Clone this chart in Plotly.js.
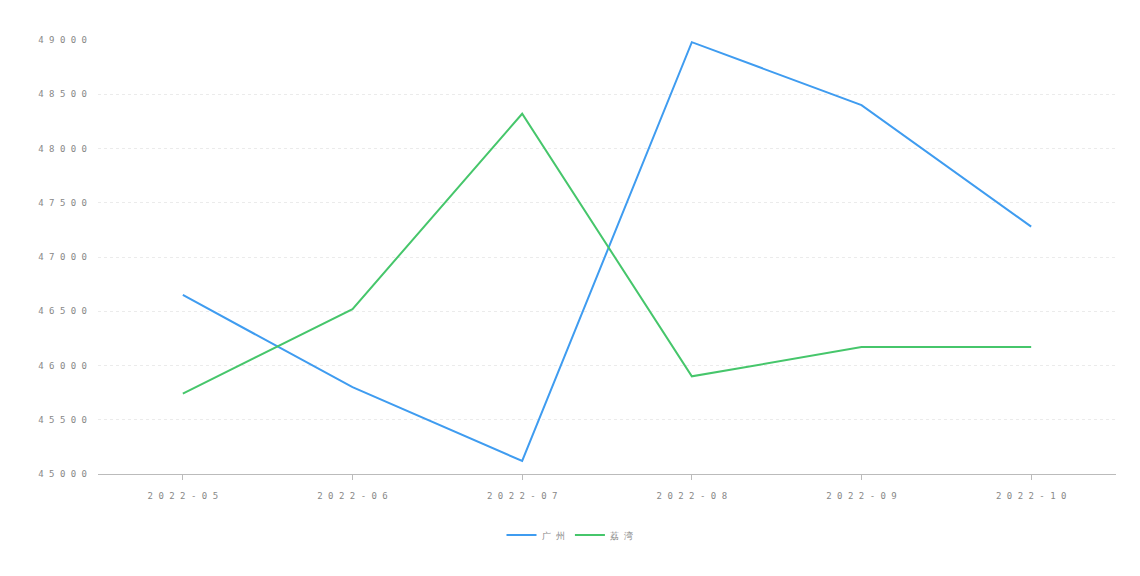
<!DOCTYPE html>
<html>
<head>
<meta charset="utf-8">
<script src="https://cdn.plot.ly/plotly-3.0.1.min.js"></script>
<style>html,body{margin:0;padding:0;background:#fff;}#chart{width:1140px;height:576px;}</style>
</head>
<body>
<div id="chart"></div>
<script>
const categories = ['2022-05','2022-06','2022-07','2022-08','2022-09','2022-10'];
const seriesNames = ['广州','荔湾'];
const guangzhou = [46650, 45800, 45120, 48980, 48400, 47280];
const liwan = [45740, 46520, 48320, 45900, 46170, 46170];
const yTickVals = [45000, 45500, 46000, 46500, 47000, 47500, 48000, 48500, 49000];

const spaced = s => String(s).split('').join('\u2009');

const traces = [
  {x: categories, y: guangzhou, name: spaced(seriesNames[0]), type: 'scatter', mode: 'lines',
   line: {color: '#3f9cf0', width: 2}},
  {x: categories, y: liwan, name: spaced(seriesNames[1]), type: 'scatter', mode: 'lines',
   line: {color: '#46c66b', width: 2}}
];

const layout = {
  width: 1140, height: 576,
  margin: {l: 98, r: 24, t: 40, b: 102},
  paper_bgcolor: '#fff', plot_bgcolor: '#fff',
  font: {family: 'DejaVu Sans Mono, monospace', color: '#888', size: 9},
  xaxis: {
    type: 'category', range: [-0.5, 5.5],
    tickvals: categories, ticktext: categories.map(spaced),
    showgrid: false, zeroline: false,
    showline: true, linecolor: '#bbb', linewidth: 1,
    ticks: 'outside', ticklen: 5, tickcolor: '#bbb', ticklabelstandoff: 8,
    tickfont: {size: 9, color: '#888'}
  },
  yaxis: {
    range: [45000, 49000],
    tickvals: yTickVals, ticktext: yTickVals.map(spaced),
    showgrid: true, gridcolor: '#ebebeb', griddash: 'dot', gridwidth: 1,
    zeroline: false, showline: false, ticks: '', ticklabelstandoff: 10,
    tickfont: {size: 9, color: '#888'}
  },
  showlegend: true,
  legend: {orientation: 'h', xref: 'container', x: 0.5, xanchor: 'center',
           yref: 'container', y: 0.071, yanchor: 'middle',
           font: {size: 9, color: '#888'}, itemwidth: 30, tracegroupgap: 0}
};

Plotly.newPlot('chart', traces, layout, {displayModeBar: false, staticPlot: true});
</script>
</body>
</html>
